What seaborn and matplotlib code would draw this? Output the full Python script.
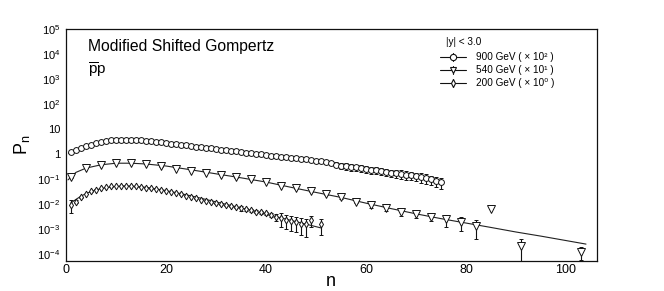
import matplotlib
matplotlib.use("Agg")
import matplotlib.pyplot as plt
import seaborn as sns
import numpy as np
import pandas as pd
from matplotlib.lines import Line2D
from matplotlib.ticker import FixedLocator, FixedFormatter, MultipleLocator, LogLocator, NullFormatter

# 900 GeV (x 10^2), open circles
n_900 = list(range(1, 76))
p_900 = [1.29, 1.51, 1.82, 2.14, 2.45, 2.75, 3.02, 3.31, 3.55, 3.72,
         3.80, 3.80, 3.80, 3.72, 3.63, 3.47, 3.31, 3.16, 3.02, 2.88,
         2.69, 2.57, 2.40, 2.29, 2.19, 2.04, 1.95, 1.82, 1.74, 1.66,
         1.55, 1.48, 1.38, 1.32, 1.26, 1.17, 1.12, 1.05, 1.00, 0.95,
         0.89, 0.85, 0.79, 0.76, 0.72, 0.68, 0.65, 0.62, 0.59, 0.55,
         0.52, 0.49, 0.44, 0.39, 0.355, 0.33, 0.316, 0.30, 0.28, 0.26,
         0.245, 0.23, 0.214, 0.20, 0.186, 0.178, 0.166, 0.155, 0.145, 0.135,
         0.123, 0.112, 0.100, 0.089, 0.076]
e_900 = [0.03] * 50 + [0.05, 0.06, 0.08, 0.09, 0.10, 0.10, 0.10, 0.09, 0.09, 0.08,
                      0.08, 0.07, 0.07, 0.07, 0.06, 0.06, 0.06, 0.06, 0.055, 0.05,
                      0.05, 0.045, 0.04, 0.04, 0.035]

# 540 GeV (x 10^1), open triangles
n_540 = [1, 4, 7, 10, 13, 16, 19, 22, 25, 28, 31, 34, 37, 40, 43, 46, 49, 52,
         55, 58, 61, 64, 67, 70, 73, 76, 79, 82, 85, 91, 103]
p_540 = [0.12, 0.28, 0.38, 0.44, 0.44, 0.41, 0.33, 0.255, 0.22, 0.18, 0.15, 0.12,
         0.10, 0.077, 0.056, 0.044, 0.033, 0.026, 0.019, 0.013, 0.0095, 0.0075,
         0.0049, 0.0041, 0.0031, 0.0025, 0.0020, 0.0014, 0.0066, 0.00022, 0.00013]
e_540 = [0.004, 0.005, 0.006, 0.006, 0.006, 0.006, 0.005, 0.004, 0.004, 0.003, 0.003, 0.003,
         0.002, 0.002, 0.002, 0.002, 0.002, 0.002, 0.002, 0.002, 0.002, 0.002,
         0.0016, 0.0012, 0.001, 0.0012, 0.0011, 0.001, 0.0, 0.00019, 0.00007]

# 200 GeV (x 10^0), open diamonds
n_200 = list(range(1, 50)) + [51]
p_200 = [0.0095, 0.0129, 0.019, 0.026, 0.033, 0.039, 0.045, 0.049, 0.052, 0.055,
         0.055, 0.055, 0.054, 0.052, 0.050, 0.047, 0.044, 0.041, 0.037, 0.034,
         0.031, 0.028, 0.025, 0.022, 0.0195, 0.0174, 0.0155, 0.0138, 0.0123, 0.011,
         0.0100, 0.0091, 0.0083, 0.0076, 0.0069, 0.0063, 0.0058, 0.0052, 0.0048, 0.0044,
         0.0038, 0.0032, 0.0028, 0.0024, 0.0022, 0.0020, 0.0017, 0.0016, 0.0024, 0.0016]
e_200 = [0.005, 0.002, 0.001, 0.001, 0.001, 0.001, 0.001, 0.001, 0.001, 0.001,
         0.001, 0.001, 0.001, 0.001, 0.001, 0.001, 0.001, 0.001, 0.001, 0.001,
         0.0008, 0.0008, 0.0008, 0.0007, 0.0006, 0.0006, 0.0005, 0.0005, 0.0005, 0.0005,
         0.0005, 0.0005, 0.0005, 0.0005, 0.0015, 0.0006, 0.0006, 0.0006, 0.0006, 0.0006,
         0.0008, 0.001, 0.0016, 0.0014, 0.0013, 0.0012, 0.0011, 0.0011, 0.0012, 0.001]

# fitted Modified Shifted Gompertz curves
fit_n_900 = [0.5, 2, 4, 6, 8, 10, 12, 15, 20, 25, 30, 35, 40, 45, 50, 55, 60, 65, 70, 75]
fit_p_900 = [1.1, 1.55, 2.2, 2.8, 3.3, 3.65, 3.8, 3.7, 3.0, 2.25, 1.68, 1.27, 0.95,
             0.71, 0.53, 0.38, 0.27, 0.19, 0.135, 0.09]
fit_n_540 = [0.4, 2, 4, 7, 10, 13, 16, 20, 25, 30, 35, 40, 45, 50, 55, 60, 65, 70,
             75, 80, 85, 90, 95, 100, 104]
fit_p_540 = [0.095, 0.19, 0.28, 0.38, 0.44, 0.44, 0.41, 0.34, 0.24, 0.166, 0.115, 0.078,
             0.048, 0.030, 0.019, 0.0112, 0.0068, 0.0042, 0.0027, 0.0018, 0.0012,
             0.00079, 0.00054, 0.00036, 0.00026]
fit_n_200 = [1, 2, 3, 4, 5, 6, 8, 10, 12, 14, 16, 18, 20, 22, 25, 30, 35, 40, 45, 51]
fit_p_200 = [0.0115, 0.0158, 0.0214, 0.0269, 0.0324, 0.038, 0.0468, 0.0525, 0.055,
             0.0525, 0.0479, 0.0417, 0.0355, 0.0295, 0.0219, 0.0126, 0.0072, 0.0041,
             0.0023, 0.00115]

labels = ["900 GeV ( × 10² )", "540 GeV ( × 10¹ )", "200 GeV ( × 10⁰ )"]

sns.set_theme(style="white")
plt.rcParams["font.family"] = ["Liberation Sans", "DejaVu Sans"]
plt.rcParams["mathtext.fontset"] = "custom"
plt.rcParams["mathtext.rm"] = "Liberation Sans"
plt.rcParams["mathtext.it"] = "Liberation Sans:italic"
plt.rcParams["text.color"] = "black"
plt.rcParams["axes.labelcolor"] = "black"

W, H = 664, 291
fig = plt.figure(figsize=(W / 100, H / 100), dpi=100)
ax = fig.add_axes([66 / W, 1 - 261 / H, 531 / W, 232 / H])

fits = [(fit_n_900, fit_p_900), (fit_n_540, fit_p_540), (fit_n_200, fit_p_200)]
for fx, fy in fits:
    sns.lineplot(x=fx, y=fy, ax=ax, color="#222222", lw=0.8, sort=False)

ax.errorbar(n_900, p_900, yerr=e_900, fmt="o", ms=4.2, mfc="white", mec="#111111",
            mew=0.7, ecolor="#111111", elinewidth=0.8, capsize=1.5, capthick=0.8)
ax.errorbar(n_540, p_540, yerr=e_540, fmt="v", ms=5.2, mfc="white", mec="#111111",
            mew=0.7, ecolor="#111111", elinewidth=0.8, capsize=1.5, capthick=0.8)
ax.errorbar(n_200, p_200, yerr=e_200, fmt="d", ms=3.4, mfc="white", mec="#111111",
            mew=0.7, ecolor="#111111", elinewidth=0.8, capsize=1.5, capthick=0.8)

ax.set_yscale("log")
ax.set_xlim(0, 106.2)
ax.set_ylim(5.5e-5, 1e5)

ax.xaxis.set_major_locator(MultipleLocator(20))
ax.xaxis.set_minor_locator(MultipleLocator(5))
ax.yaxis.set_major_locator(FixedLocator([1e-4, 1e-3, 1e-2, 1e-1, 1, 10, 1e2, 1e3, 1e4, 1e5]))
ax.yaxis.set_major_formatter(FixedFormatter(
    [r"10$^{-4}$", r"10$^{-3}$", r"10$^{-2}$", r"10$^{-1}$", "1", "10",
     r"10$^{2}$", r"10$^{3}$", r"10$^{4}$", r"10$^{5}$"]))
ax.yaxis.set_minor_locator(LogLocator(base=10, subs=np.arange(2, 10), numticks=20))
ax.yaxis.set_minor_formatter(NullFormatter())
ax.tick_params(axis="both", which="both", direction="in", top=False, right=False,
               colors="#111111", labelcolor="black", width=0.8)
ax.tick_params(axis="y", which="major", length=7, labelsize=8, pad=4)
ax.tick_params(axis="y", which="minor", length=4)
ax.tick_params(axis="x", which="major", length=6, labelsize=9, pad=2)
ax.tick_params(axis="x", which="minor", length=3)
for s in ax.spines.values():
    s.set_color("#111111")
    s.set_linewidth(0.9)

ax.set_ylabel(r"P$_{\rm n}$", fontsize=13, labelpad=4)
fig.text(331 / W, 1 - 282 / H, "n", fontsize=13, ha="center", va="center")

fig.text(88 / W, 1 - 47 / H, "Modified Shifted Gompertz", fontsize=11.3,
         va="center", ha="left")
fig.text(88 / W, 1 - 70 / H, r"$\overline{\rm p}$p", fontsize=11, va="center", ha="left")

# legend drawn by hand (ROOT style: header, then line + marker + error bar)
fig.text(446 / W, 1 - 42 / H, "|y| < 3.0", fontsize=7.2, va="center", ha="left")
markers = ["o", "v", "d"]
sizes = [4.5, 5.0, 3.8]
for i, (m, ms, lab) in enumerate(zip(markers, sizes, labels)):
    yy = 1 - (57 + 13 * i) / H
    fig.add_artist(Line2D([440 / W, 466 / W], [yy, yy], transform=fig.transFigure,
                          color="#111111", lw=0.8))
    fig.add_artist(Line2D([453 / W, 453 / W], [yy - 4 / H, yy + 4 / H],
                          transform=fig.transFigure, color="#111111", lw=0.8))
    fig.add_artist(Line2D([453 / W], [yy], transform=fig.transFigure, ls="none",
                          marker=m, ms=ms, mfc="white", mec="#111111", mew=0.8))
    fig.text(476 / W, yy, lab, fontsize=7.2, va="center", ha="left")

fig.savefig("out.png", dpi=100, facecolor="white")
